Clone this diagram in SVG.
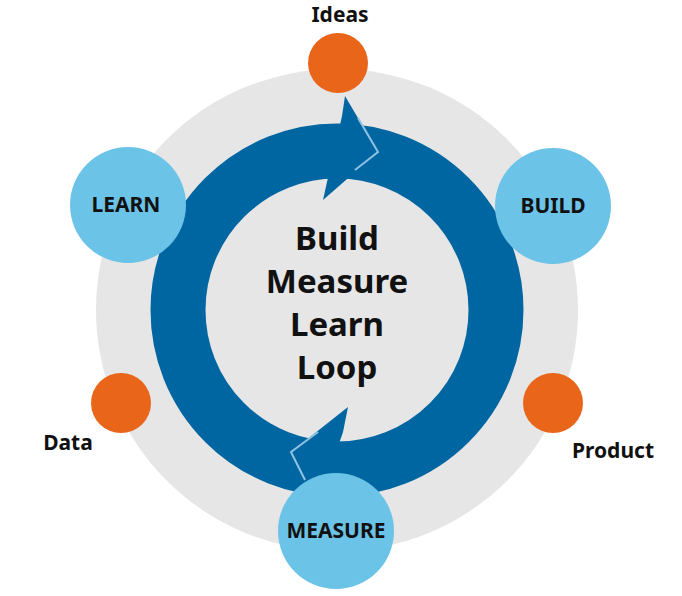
<svg xmlns="http://www.w3.org/2000/svg" width="682" height="596" viewBox="0 0 682 596">
<style>
.o{fill:#e8651a}.b{fill:#6cc3e8}.a{fill:#0066a1}
text{font-family:"Noto Sans","Liberation Sans",sans-serif;font-weight:bold;fill:#111}
.n{font-size:21px;text-anchor:middle}
.c{font-size:33px;text-anchor:middle}
.hl{fill:none;stroke:#8fc3e3;stroke-width:2}
</style>
<rect width="682" height="596" fill="#fff"/>
<circle cx="337" cy="310" r="241" fill="#e6e6e6"/>
<g id="connectors">
<circle cx="337" cy="310" r="159" fill="none" stroke="#0066a1" stroke-width="55"/>
<polygon class="a" points="345,96 378,152 323,200 329,173 342,116"/>
<polyline class="hl" points="358,118 378,152 355,170"/>
<polygon class="a" points="348,407 291,452 310,500 330,470 343,432"/>
<polyline class="hl" points="318,432 291,452 305,480"/>
</g>
<text class="c"><tspan x="337" y="250">Build</tspan><tspan x="337" y="293">Measure</tspan><tspan x="337" y="336">Learn</tspan><tspan x="337" y="379">Loop</tspan></text>
<g id="ideas"><circle class="o" cx="338" cy="63" r="30"/><text class="n" x="340" y="22">Ideas</text></g>
<g id="build"><circle class="b" cx="553" cy="206" r="58"/><text class="n" x="553" y="213">BUILD</text></g>
<g id="learn"><circle class="b" cx="128" cy="205" r="58"/><text class="n" x="126" y="212">LEARN</text></g>
<g id="measure"><circle class="b" cx="336" cy="531" r="58"/><text class="n" x="336" y="538">MEASURE</text></g>
<g id="data"><circle class="o" cx="121" cy="403" r="30"/><text class="n" x="68" y="450">Data</text></g>
<g id="product"><circle class="o" cx="553" cy="403" r="30"/><text class="n" x="613" y="458">Product</text></g>
</svg>
